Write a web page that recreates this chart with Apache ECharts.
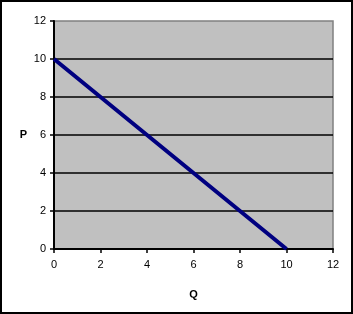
<!DOCTYPE html>
<html><head><meta charset="utf-8">
<script src="https://cdn.jsdelivr.net/npm/echarts@6/dist/echarts.min.js"></script>
<style>html,body{margin:0;padding:0;background:#fff}#c{width:353px;height:314px;box-sizing:border-box;border:2px solid #000}</style>
</head><body><div id="c"></div>
<script>
var qValues = [0, 2, 4, 6, 8, 10];
var pValues = [10, 8, 6, 4, 2, 0];
var chart = echarts.init(document.getElementById('c'));
var font = 'Liberation Sans, Arial, sans-serif';
chart.setOption({
  animation: false,
  grid: {left: 52, right: 18, top: 19, bottom: 63, show: true, backgroundColor: '#c0c0c0', borderColor: '#808080', borderWidth: 1.5},
  xAxis: {type: 'value', min: 0, max: 12, interval: 2, name: 'Q', nameLocation: 'middle', nameGap: 40,
    nameTextStyle: {fontFamily: font, fontSize: 11, fontWeight: 'bold', color: '#000'},
    axisLine: {lineStyle: {color: '#000', width: 2}}, axisTick: {show: true, length: 4, lineStyle: {color: '#000', width: 1.5}},
    axisLabel: {fontFamily: font, fontSize: 11, color: '#000', margin: 10}, splitLine: {show: false}},
  yAxis: {type: 'value', min: 0, max: 12, interval: 2, name: 'P', nameLocation: 'middle', nameGap: 27, nameRotate: 0,
    nameTextStyle: {fontFamily: font, fontSize: 11, fontWeight: 'bold', color: '#000'},
    axisLine: {show: true, lineStyle: {color: '#000', width: 2}}, axisTick: {show: true, length: 4, lineStyle: {color: '#000', width: 1.5}},
    axisLabel: {fontFamily: font, fontSize: 11, color: '#000', margin: 8},
    splitLine: {show: true, showMaxLine: false, lineStyle: {color: '#000', width: 1.5}}},
  series: [{type: 'line', data: qValues.map(function(q, i){return [q, pValues[i]];}), symbol: 'none',
    lineStyle: {color: '#000080', width: 4}}]
});
</script></body></html>
